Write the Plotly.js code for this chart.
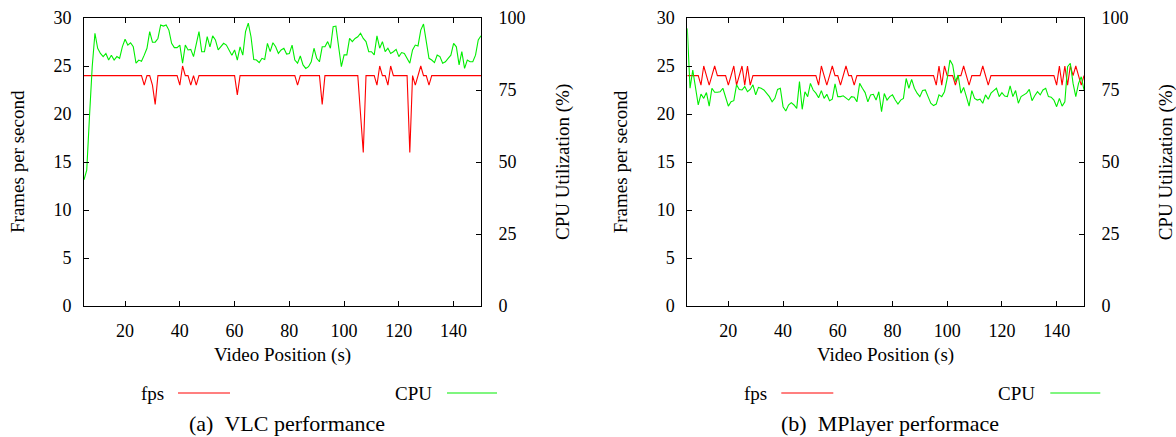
<!DOCTYPE html>
<html><head><meta charset="utf-8">
<script src="https://cdn.plot.ly/plotly-3.0.1.min.js"></script>
<style>html,body{margin:0;padding:0;background:#fff;} #chart{width:1176px;height:437px;}</style>
</head><body><div id="chart"></div>
<script>
const time = [5,6,7,8,9,10,11,12,13,14,15,16,17,18,19,20,21,22,23,24,25,26,27,28,29,30,31,32,33,34,35,36,37,38,39,40,41,42,43,44,45,46,47,48,49,50,51,52,53,54,55,56,57,58,59,60,61,62,63,64,65,66,67,68,69,70,71,72,73,74,75,76,77,78,79,80,81,82,83,84,85,86,87,88,89,90,91,92,93,94,95,96,97,98,99,100,101,102,103,104,105,106,107,108,109,110,111,112,113,114,115,116,117,118,119,120,121,122,123,124,125,126,127,128,129,130,131,132,133,134,135,136,137,138,139,140,141,142,143,144,145,146,147,148,149,150];

const vlcFps = [
24,24,24,24,24,24,24,24,24,24,
24,24,24,24,24,24,24,24,24,24,
24,24,23,24,24,23,21,24,24,24,
24,24,24,24,24,23,25,24,24,23,
24,23,24,24,24,24,24,24,24,24,
24,24,24,24,24,24,22,24,24,24,
24,24,24,24,24,24,24,24,24,24,
24,24,24,24,24,24,24,24,23,24,
24,24,24,24,24,24,24,21,24,24,
24,24,24,24,24,24,24,24,24,24,
24,20,16,24,24,24,24,23,25,24,
24,23,25,24,24,24,24,24,24,16,
24,23,24,25,24,24,23,24,24,24,
24,24,24,24,24,24,24,24,24,24,
24,24,24,24,24,24];

const vlcCpu = [
43.8,47.2,65.7,83.1,94.7,89.5,87.7,86.6,87.7,85.4,
87.1,85.4,86.6,86.0,90.0,92.6,90.6,91.4,90.0,84.3,
85.4,85.0,87.1,89.5,95.3,91.6,91.6,92.9,97.6,97.2,
97.6,95.8,91.2,89.7,89.7,90.6,84.3,90.6,88.9,89.1,
86.6,91.2,95.3,88.3,88.3,93.5,90.0,93.8,92.4,88.9,
90.0,91.2,90.6,88.9,87.1,88.9,85.4,90.0,87.1,95.3,
98.2,93.5,85.6,85.4,84.5,86.0,85.6,91.2,88.3,91.4,
90.0,87.7,88.9,89.5,87.5,87.7,90.6,85.4,84.3,86.8,
83.7,82.5,83.1,84.8,89.5,86.0,84.8,90.0,90.0,91.8,
89.5,97.0,97.2,90.0,83.1,87.2,87.2,92.9,91.8,92.9,
93.5,94.7,92.9,91.8,88.3,88.3,87.2,93.8,89.5,91.8,
88.3,89.5,87.7,88.3,89.1,86.6,88.0,87.7,86.0,84.3,
88.9,90.6,90.3,95.8,97.9,92.4,86.0,85.4,84.5,87.1,
86.6,84.3,84.8,86.0,87.1,91.2,90.0,83.7,88.3,82.5,
85.4,84.8,84.8,87.1,92.4,93.8];

const mplayerFps = [
24,24,24,24,24,23,25,24,23,24,
25,24,24,24,24,23,24,25,23,24,
25,23,25,23,24,24,24,24,24,24,
24,24,24,24,24,24,24,24,24,24,
24,24,24,24,24,24,24,24,23,25,
24,23,24,25,24,24,23,24,25,24,
24,23,24,24,24,24,24,24,24,24,
24,24,24,24,24,24,24,24,24,24,
24,24,24,24,24,24,24,24,24,24,
24,23,25,23,25,24,24,24,23,24,
24,25,24,23,24,24,24,24,25,24,
23,24,24,24,24,24,24,24,24,24,
24,24,24,24,24,24,24,24,24,24,
24,24,24,24,24,23,25,23,25,23,
25,24,25,24,23,24];

const mplayerCpu = [
96.4,75.6,81.9,75.0,69.8,73.6,72.1,74.1,69.4,75.6,
74.2,74.2,74.4,75.6,72.1,69.4,70.9,71.3,76.8,75.2,
75.0,76.2,74.4,75.2,76.8,73.3,75.9,75.6,75.0,73.9,
72.7,70.9,72.1,75.2,75.6,69.2,67.7,69.8,70.6,69.8,
68.6,77.9,68.3,74.4,72.7,77.3,75.0,73.9,72.3,74.8,
72.1,73.5,71.3,71.8,77.1,72.7,72.7,73.0,72.1,71.5,
72.7,72.5,70.9,77.3,75.6,74.1,70.9,73.3,73.5,71.5,
74.4,67.5,73.8,71.5,72.7,73.3,71.5,70.1,71.5,72.1,
79.0,75.6,78.7,75.6,73.9,72.7,74.8,75.0,72.7,70.4,
69.6,70.1,73.3,72.7,74.4,79.0,85.4,83.7,77.9,80.2,
73.9,75.9,72.7,69.4,74.8,72.1,71.5,71.8,70.4,73.3,
71.8,73.9,74.8,75.6,72.7,74.1,72.9,72.7,76.4,72.7,
74.8,70.4,72.7,73.3,73.9,75.2,71.3,73.0,74.4,73.3,
75.0,75.6,72.7,72.5,71.5,69.2,72.1,69.4,70.9,83.1,
84.3,77.3,72.7,77.3,79.6,75.0];

const xTicks = [20,40,60,80,100,120,140];
const fpsTicks = [0,5,10,15,20,25,30];
const cpuTicks = [0,25,50,75,100];
const seriesNames = ['fps','CPU'];
const xTitle = 'Video Position (s)';
const fpsTitle = 'Frames per second';
const cpuTitle = 'CPU Utilization (%)';
const captions = ['(a)\u00a0\u00a0VLC performance','(b)\u00a0\u00a0MPlayer performace'];

const W = 1176, H = 437;
const px = v => v / W;
const py = v => 1 - v / H;
const FONT = 'Liberation Serif, Times New Roman, serif';
const RED = '#ff0000', GREEN = '#00ee00';

const panels = [
  {x0: 84, x1: 481, fps: vlcFps, cpu: vlcCpu, cap: captions[0]},
  {x0: 687.3, x1: 1084, fps: mplayerFps, cpu: mplayerCpu, cap: captions[1]}
];
const yTop = 18, yBot = 306;

const axBase = {showline:true, linecolor:'#000', linewidth:1, ticks:'inside', ticklen:5,
  tickcolor:'#000', tickwidth:1, showgrid:false, zeroline:false, fixedrange:true,
  tickfont:{family:FONT, size:18, color:'#000'}};

const layout = {
  width: W, height: H, margin:{l:0,r:0,t:0,b:0}, paper_bgcolor:'#fff', plot_bgcolor:'#fff',
  showlegend:false, font:{family:FONT, size:18, color:'#000'},
  annotations:[], shapes:[]
};
const data = [];

panels.forEach((p, i) => {
  const xa = i === 0 ? 'xaxis' : 'xaxis2';
  const xr = i === 0 ? 'x' : 'x2';
  const yaL = i === 0 ? 'yaxis' : 'yaxis3';
  const yaR = i === 0 ? 'yaxis2' : 'yaxis4';
  const yrL = i === 0 ? 'y' : 'y3';
  const yrR = i === 0 ? 'y2' : 'y4';
  layout[xa] = Object.assign({}, axBase, {domain:[px(p.x0), px(p.x1)], range:[5,150],
    tickvals:xTicks, mirror:'ticks', anchor:yrL, ticklabelstandoff:8});
  layout[yaL] = Object.assign({}, axBase, {domain:[py(yBot), py(yTop)], range:[0,30],
    tickvals:fpsTicks, anchor:xr, ticklabelstandoff:8});
  layout[yaR] = Object.assign({}, axBase, {overlaying:yrL, side:'right', range:[0,100],
    tickvals:cpuTicks, anchor:xr, ticklabelstandoff:13});
  data.push({x:time, y:p.fps, xaxis:xr, yaxis:yrL, type:'scatter', mode:'lines',
    line:{color:RED, width:1.1}, name:seriesNames[0], hoverinfo:'skip'});
  data.push({x:time, y:p.cpu, xaxis:xr, yaxis:yrR, type:'scatter', mode:'lines',
    line:{color:GREEN, width:1.1}, name:seriesNames[1], hoverinfo:'skip'});

  const off = p.x0 - 84;
  const tf = {family:FONT, size:19, color:'#000'};
  layout.annotations.push({xref:'paper', yref:'paper', x:px(17+off), y:py(162), text:fpsTitle,
    textangle:-90, showarrow:false, xanchor:'center', yanchor:'middle', font:tf});
  layout.annotations.push({xref:'paper', yref:'paper', x:px(563+off), y:py(162), text:cpuTitle,
    textangle:-90, showarrow:false, xanchor:'center', yanchor:'middle', font:tf});
  layout.annotations.push({xref:'paper', yref:'paper', x:px((p.x0+p.x1)/2), y:py(355), text:xTitle,
    showarrow:false, xanchor:'center', yanchor:'middle', font:tf});
  layout.annotations.push({xref:'paper', yref:'paper', x:px(166+off), y:py(393), text:seriesNames[0],
    showarrow:false, xanchor:'right', yanchor:'middle', font:tf});
  layout.shapes.push({type:'line', xref:'paper', yref:'paper', x0:px(178+off), x1:px(230+off),
    y0:py(393), y1:py(393), line:{color:RED, width:1.1}});
  layout.annotations.push({xref:'paper', yref:'paper', x:px(434+off), y:py(393), text:seriesNames[1],
    showarrow:false, xanchor:'right', yanchor:'middle', font:tf});
  layout.shapes.push({type:'line', xref:'paper', yref:'paper', x0:px(447+off), x1:px(497+off),
    y0:py(393), y1:py(393), line:{color:GREEN, width:1.1}});
  layout.annotations.push({xref:'paper', yref:'paper', x:px(287+off), y:py(423), text:p.cap,
    showarrow:false, xanchor:'center', yanchor:'middle', font:{family:FONT,size:22,color:'#000'}});
});

Plotly.newPlot('chart', data, layout, {staticPlot:true, displayModeBar:false});
</script>
</body></html>
